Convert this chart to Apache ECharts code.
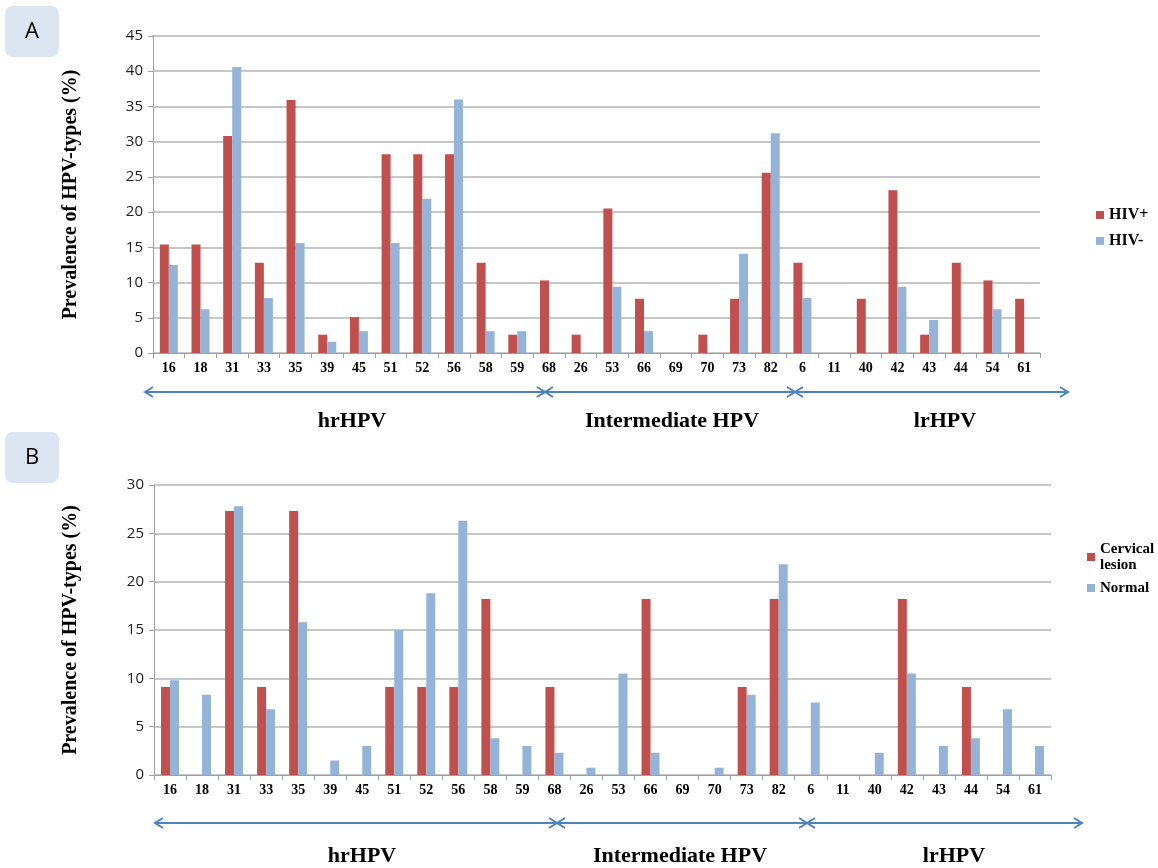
<!DOCTYPE html>
<html><head><meta charset="utf-8">
<script src="https://cdn.jsdelivr.net/npm/echarts@6/dist/echarts.min.js"></script>
<style>html,body{margin:0;padding:0;background:#fff}#c{width:1158px;height:868px}</style>
</head><body><div id="c"></div>
<script>
const categories = ['16','18','31','33','35','39','45','51','52','56','58','59','68','26','53','66','69','70','73','82','6','11','40','42','43','44','54','61'];
const hivPos = [15.4,15.4,30.8,12.8,35.9,2.6,5.1,28.2,28.2,28.2,12.8,2.6,10.3,2.6,20.5,7.7,0,2.6,7.7,25.6,12.8,0,7.7,23.1,2.6,12.8,10.3,7.7];
const hivNeg = [12.5,6.2,40.6,7.8,15.6,1.6,3.1,15.6,21.9,36.0,3.1,3.1,0,0,9.4,3.1,0,0,14.1,31.2,7.8,0,0,9.4,4.7,0,6.2,0];
const lesion = [9.1,0,27.3,9.1,27.3,0,0,9.1,9.1,9.1,18.2,0,9.1,0,0,18.2,0,0,9.1,18.2,0,0,0,18.2,0,9.1,0,0];
const normal = [9.8,8.3,27.8,6.8,15.8,1.5,3.0,15.0,18.8,26.3,3.8,3.0,2.3,0.75,10.5,2.3,0,0.75,8.3,21.8,7.5,0,2.3,10.5,3.0,3.8,6.8,3.0];
const yTicksA = {min:0,max:45,interval:5};
const yTicksB = {min:0,max:30,interval:5};

const RED = '#C0504D', BLUE = '#95B3D7', GRID = '#B4B4B4', ARROW = '#4F81BD';
const serif = '"Liberation Serif","Times New Roman",serif';
const sans = '"Open Sans","Liberation Sans",sans-serif';

function xAxis(gi){
  return {type:'category', gridIndex:gi, data:categories, boundaryGap:true,
    axisLine:{lineStyle:{color:'#A0A0A0',width:1}},
    axisTick:{show:true,length:5,alignWithLabel:false,lineStyle:{color:'#A0A0A0'}},
    axisLabel:{interval:0,color:'#000',fontFamily:serif,fontWeight:'bold',fontSize:14,margin:8}};
}
function yAxis(gi,t,gap){
  return {type:'value', gridIndex:gi, min:t.min, max:t.max, interval:t.interval,
    name:'Prevalence of HPV-types (%)', nameLocation:'middle', nameRotate:90, nameGap:gap,
    nameTextStyle:{fontFamily:serif,fontWeight:'bold',fontSize:20,color:'#000'},
    axisLine:{show:true,lineStyle:{color:'#A0A0A0'}},
    axisTick:{show:true,length:5,lineStyle:{color:'#A0A0A0'}},
    splitLine:{lineStyle:{color:GRID,width:1.5}},
    axisLabel:{color:'#222',fontFamily:sans,fontSize:15,margin:10}};
}
function bar(name,data,color,gi){
  return {type:'bar',name,data,xAxisIndex:gi,yAxisIndex:gi,barWidth:9,barGap:'0%',
    itemStyle:{color},emphasis:{disabled:true},animation:false};
}
function arrow(x1,x2,y){
  const h=8,w=5;
  return [
    {type:'line',shape:{x1,y1:y,x2,y2:y},style:{stroke:ARROW,lineWidth:2}},
    {type:'polyline',shape:{points:[[x1+h,y-w],[x1,y],[x1+h,y+w]]},style:{stroke:ARROW,lineWidth:2,fill:null}},
    {type:'polyline',shape:{points:[[x2-h,y-w],[x2,y],[x2-h,y+w]]},style:{stroke:ARROW,lineWidth:2,fill:null}}
  ];
}
function label(text,x,y){
  return {type:'text',x,y,style:{text,fontFamily:serif,fontWeight:'bold',fontSize:22,fill:'#000',align:'center',verticalAlign:'middle'}};
}
function panel(letter,y){
  return [
    {type:'rect',shape:{x:5,y,width:54,height:51,r:8},style:{fill:'#DCE6F2'}},
    {type:'text',x:32,y:y+26,style:{text:letter,fontFamily:sans,fontSize:22,fill:'#000',align:'center',verticalAlign:'middle'}}
  ];
}

const chart = echarts.init(document.getElementById('c'),null,{renderer:'canvas'});
chart.setOption({
  backgroundColor:'#fff',
  animation:false,
  grid:[{left:153,top:36,width:887,height:317},{left:154,top:485,width:897,height:290}],
  xAxis:[xAxis(0),xAxis(1)],
  yAxis:[yAxis(0,yTicksA,72),yAxis(1,yTicksB,73)],
  legend:[
    {data:['HIV+','HIV-'],orient:'vertical',left:1091,top:202,itemWidth:8,itemHeight:8,itemGap:10,icon:'rect',
     textStyle:{fontFamily:serif,fontWeight:'bold',fontSize:16,color:'#000'},selectedMode:false},
    {data:['Cervical lesion','Normal'],orient:'vertical',left:1082,top:536,itemWidth:8,itemHeight:8,itemGap:7,icon:'rect',
     formatter:n=>n==='Cervical lesion'?'Cervical\nlesion':n,
     textStyle:{fontFamily:serif,fontWeight:'bold',fontSize:15,color:'#000',lineHeight:16},selectedMode:false}
  ],
  series:[bar('HIV+',hivPos,RED,0),bar('HIV-',hivNeg,BLUE,0),bar('Cervical lesion',lesion,RED,1),bar('Normal',normal,BLUE,1)],
  graphic:[].concat(
    panel('A',6),panel('B',432),
    arrow(145,545,392),arrow(545,795,392),arrow(795,1068,392),
    arrow(155,557,823),arrow(557,807,823),arrow(807,1082,823),
    [label('hrHPV',352,421),label('Intermediate HPV',672,421),label('lrHPV',945,421),
     label('hrHPV',362,856),label('Intermediate HPV',680,856),label('lrHPV',954,856)]
  )
});
</script></body></html>
